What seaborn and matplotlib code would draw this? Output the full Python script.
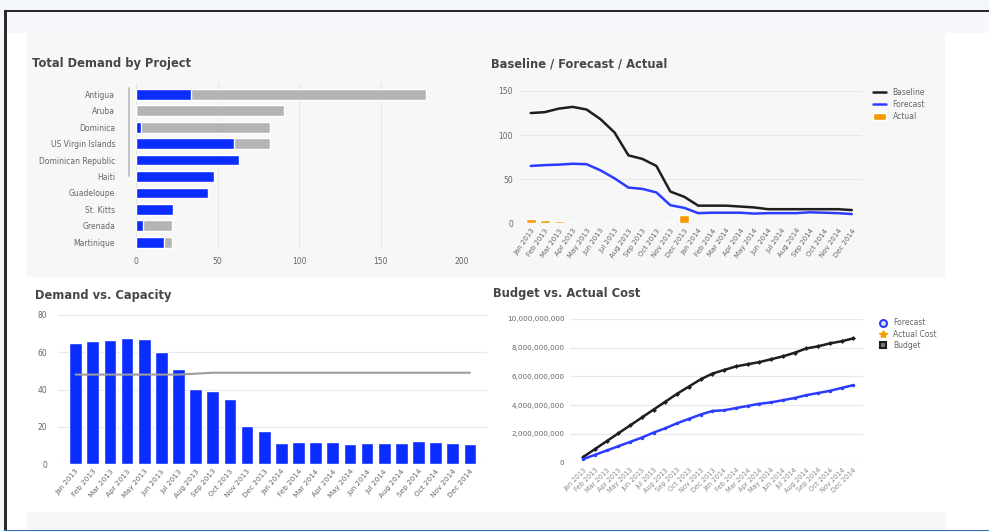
import matplotlib
matplotlib.use("Agg")
import matplotlib.pyplot as plt
import seaborn as sns
import pandas as pd
from matplotlib.patches import Rectangle, Patch
from matplotlib.lines import Line2D
from matplotlib.ticker import FuncFormatter

# ---------------- data ----------------
projects = ["Antigua", "Aruba", "Dominica", "US Virgin Islands", "Dominican Republic",
            "Haiti", "Guadeloupe", "St. Kitts", "Grenada", "Martinique"]
total_demand = [178, 91, 82, 82, 63, 48, 44, 23, 22, 22]
assigned_demand = [34, 0, 3, 60, 63, 48, 44, 23, 4, 17]

months = ["Jan 2013", "Feb 2013", "Mar 2013", "Apr 2013", "May 2013", "Jun 2013",
          "Jul 2013", "Aug 2013", "Sep 2013", "Oct 2013", "Nov 2013", "Dec 2013",
          "Jan 2014", "Feb 2014", "Mar 2014", "Apr 2014", "May 2014", "Jun 2014",
          "Jul 2014", "Aug 2014", "Sep 2014", "Oct 2014", "Nov 2014", "Dec 2014"]

baseline = [125, 126, 130, 132, 129, 118, 103, 77, 73, 65, 36, 30,
            20, 20, 20, 19, 18, 16, 16, 16, 16, 16, 16, 15]
forecast = [65, 66, 66.5, 67.5, 67, 60, 51, 40.5, 39, 35, 20.5, 17.5,
            11.5, 12, 12, 12, 11, 11.5, 11.5, 11.5, 12.5, 12, 11.5, 10.5]
actual = [4.5, 3.5, 2.5, 1.5, 0, 0, 0, 0, 0, 0, 1.5, 9,
          0, 0, 0, 0, 0, 0, 0, 0, 0, 0, 0, 0]

demand = [65, 66, 66.5, 67.5, 67, 60, 51, 40.5, 39, 35, 20.5, 17.5,
          11.5, 12, 12, 12, 11, 11.5, 11.5, 11.5, 12.5, 12, 11.5, 10.5]
capacity = [48, 48, 48, 48, 48, 48, 48, 48.5, 49, 49, 49, 49,
            49, 49, 49, 49, 49, 49, 49, 49, 49, 49, 49, 49]

budget_cost = [0.40e9, 0.95e9, 1.50e9, 2.05e9, 2.60e9, 3.15e9, 3.70e9, 4.25e9,
               4.80e9, 5.30e9, 5.80e9, 6.20e9, 6.45e9, 6.70e9, 6.85e9, 7.00e9,
               7.20e9, 7.40e9, 7.65e9, 7.95e9, 8.10e9, 8.30e9, 8.45e9, 8.65e9]
forecast_cost = [0.25e9, 0.55e9, 0.85e9, 1.15e9, 1.45e9, 1.75e9, 2.10e9, 2.40e9,
                 2.75e9, 3.05e9, 3.35e9, 3.60e9, 3.65e9, 3.80e9, 3.95e9, 4.10e9,
                 4.20e9, 4.35e9, 4.50e9, 4.70e9, 4.85e9, 5.00e9, 5.20e9, 5.40e9]

# ---------------- style ----------------
sns.set_style("white")
plt.rcParams["font.family"] = ["DejaVu Sans"]

BLUE = "#0a2cff"
GRAY_BAR = "#b4b4b4"
ORANGE = "#f59b00"
BLACK = "#1e1e1e"
TICK = "#666666"
TITLE = "#474747"
GRID = "#e8e8e8"

W, H = 989, 532
fig = plt.figure(figsize=(W / 100, H / 100), dpi=100)
fig.patch.set_facecolor("#f3f6fa")


def rect(x0, y0, x1, y1, color, z=-5):
    fig.patches.append(Rectangle((x0 / W, 1 - y1 / H), (x1 - x0) / W, (y1 - y0) / H,
                                 transform=fig.transFigure, facecolor=color,
                                 edgecolor="none", zorder=z))


def axpx(x0, y0, x1, y1):
    ax = fig.add_axes([x0 / W, 1 - y1 / H, (x1 - x0) / W, (y1 - y0) / H])
    ax.set_facecolor("none")
    for s in ax.spines.values():
        s.set_visible(False)
    return ax


# background / frame
rect(6, 12, 989, 530, "#ffffff")
rect(6, 12, 989, 33, "#f6f8fb")
rect(26, 33, 945, 277, "#f7f7f7")
rect(26, 512, 946, 530, "#f6f7f7")
rect(4, 10, 989, 12, "#2a2a2a", 5)
rect(4, 10, 6.5, 530, "#2a2a2a", 5)
rect(4, 529.5, 989, 531, "#2f6db0", 5)


def title(x, y, s):
    fig.text(x / W, 1 - y / H, s, fontsize=8.3, fontweight="bold", color=TITLE,
             va="center", ha="left")


title(32, 64, "Total Demand by Project")
title(491, 64, "Baseline / Forecast / Actual")
title(35, 295, "Demand vs. Capacity")
title(493, 294, "Budget vs. Actual Cost")

# ---------------- panel 1 ----------------
df1 = pd.DataFrame({"project": projects, "total": total_demand, "assigned": assigned_demand})
ax1 = axpx(136, 83, 462, 250)
sns.barplot(data=df1, y="project", x="total", color=GRAY_BAR, width=0.65,
            saturation=1, orient="h", ax=ax1)
sns.barplot(data=df1, y="project", x="assigned", color=BLUE, width=0.65,
            saturation=1, orient="h", ax=ax1)
ax1.set_xlim(0, 200)
ax1.set_ylim(9.47, -0.69)
ax1.set_xticks([0, 50, 100, 150, 200])
ax1.set_xlabel("")
ax1.set_ylabel("")
ax1.grid(axis="x", color=GRID, lw=0.8)
ax1.set_axisbelow(True)
ax1.tick_params(axis="y", length=0, labelsize=5.5, labelcolor=TICK, pad=15)
ax1.tick_params(axis="x", length=0, labelsize=5.5, labelcolor=TICK, pad=5)
fig.add_artist(Line2D([129 / W, 129 / W], [1 - 88 / H, 1 - 176 / H],
                      transform=fig.transFigure, color="#c4c4c4", lw=1.4))

# ---------------- panel 2 ----------------
df2 = pd.DataFrame({"month": months, "idx": list(range(len(months))),
                    "baseline": baseline, "forecast": forecast, "actual": actual})
ax2 = axpx(520, 91, 862, 223.3)
sns.barplot(data=df2, x="month", y="actual", order=months, color=ORANGE, width=0.7,
            saturation=1, ax=ax2)
sns.lineplot(data=df2, x="idx", y="baseline", color=BLACK, lw=1.8, ax=ax2)
sns.lineplot(data=df2, x="idx", y="forecast", color="#2a3cff", lw=1.8, ax=ax2)
ax2.set_xlim(-0.77, 23.73)
ax2.set_ylim(0, 150)
ax2.set_yticks([0, 50, 100, 150])
ax2.set_xticks(range(len(months)))
ax2.set_xticklabels(months, rotation=55, ha="right", rotation_mode="anchor")
ax2.set_xlabel("")
ax2.set_ylabel("")
ax2.grid(axis="y", color=GRID, lw=0.8)
ax2.set_axisbelow(True)
ax2.tick_params(axis="y", length=0, labelsize=5.5, labelcolor=TICK, pad=5)
ax2.tick_params(axis="x", length=0, labelsize=5, labelcolor=TICK, pad=3)
h2 = [Line2D([], [], color=BLACK, lw=1.8), Line2D([], [], color="#2a3cff", lw=1.8),
      Patch(facecolor=ORANGE)]
ax2.legend(h2, ["Baseline", "Forecast", "Actual"], loc="upper left",
           bbox_to_anchor=(868 / W, 1 - 83 / H), bbox_transform=fig.transFigure,
           frameon=False, fontsize=5.5, handlelength=1.6, handleheight=1.0,
           labelspacing=0.4, handletextpad=0.9, labelcolor=TICK,
           borderaxespad=0.3)

# ---------------- panel 3 ----------------
df3 = pd.DataFrame({"month": months, "idx": list(range(len(months))),
                    "demand": demand, "capacity": capacity})
ax3 = axpx(58, 315, 487, 464)
sns.barplot(data=df3, x="month", y="demand", order=months, color=BLUE, width=0.74,
            saturation=1, ax=ax3)
sns.lineplot(data=df3, x="idx", y="capacity", color="#9c9c9c", lw=1.5, ax=ax3)
ax3.set_xlim(-1.03, 24)
ax3.set_ylim(0, 80)
ax3.set_yticks([0, 20, 40, 60, 80])
ax3.set_xticks(range(len(months)))
ax3.set_xticklabels(months, rotation=50, ha="right", rotation_mode="anchor")
ax3.set_xlabel("")
ax3.set_ylabel("")
ax3.grid(axis="y", color=GRID, lw=0.8)
ax3.set_axisbelow(True)
ax3.tick_params(axis="y", length=0, labelsize=5.5, labelcolor=TICK, pad=8)
ax3.tick_params(axis="x", length=0, labelsize=5.2, labelcolor=TICK, pad=3)

# ---------------- panel 4 ----------------
df4 = pd.DataFrame({"idx": list(range(len(months))), "budget": budget_cost,
                    "forecast": forecast_cost})
ax4 = axpx(570, 319, 863, 462.7)
sns.lineplot(data=df4, x="idx", y="budget", color=BLACK, lw=1.8, marker="D",
             markersize=2.5, markeredgewidth=0, ax=ax4)
sns.lineplot(data=df4, x="idx", y="forecast", color="#2a3cff", lw=1.8, marker="o",
             markersize=2.5, markeredgewidth=0, ax=ax4)
ax4.set_xlim(-1.13, 23.83)
ax4.set_ylim(0, 1e10)
ax4.set_yticks([0, 2e9, 4e9, 6e9, 8e9, 1e10])
ax4.yaxis.set_major_formatter(FuncFormatter(lambda v, p: f"{v:,.0f}"))
ax4.set_xticks(range(len(months)))
ax4.set_xticklabels(months, rotation=45, ha="right", rotation_mode="anchor")
ax4.set_xlabel("")
ax4.set_ylabel("")
ax4.grid(axis="y", color=GRID, lw=0.8)
ax4.set_axisbelow(True)
ax4.tick_params(axis="y", length=0, labelsize=5.2, labelcolor=TICK, pad=4)
ax4.tick_params(axis="x", length=0, labelsize=4.8, labelcolor="#8a8a8a", pad=3)
h4 = [Line2D([], [], color="#2a3cff", marker="o", markersize=5, lw=0,
             markerfacecolor="#dfe3ff", markeredgewidth=1.5),
      Line2D([], [], color=ORANGE, marker="*", markersize=6, lw=0),
      Line2D([], [], color=BLACK, marker="s", markersize=5, lw=0,
             markerfacecolor="#777777", markeredgewidth=1.5)]
ax4.legend(h4, ["Forecast", "Actual Cost", "Budget"], loc="upper left",
           bbox_to_anchor=(874 / W, 1 - 313 / H), bbox_transform=fig.transFigure,
           frameon=False, fontsize=5.5, handlelength=1.0, labelspacing=0.3,
           handletextpad=0.8, labelcolor=TICK, borderaxespad=0.3)

fig.savefig("out.png", dpi=100, facecolor=fig.get_facecolor())
